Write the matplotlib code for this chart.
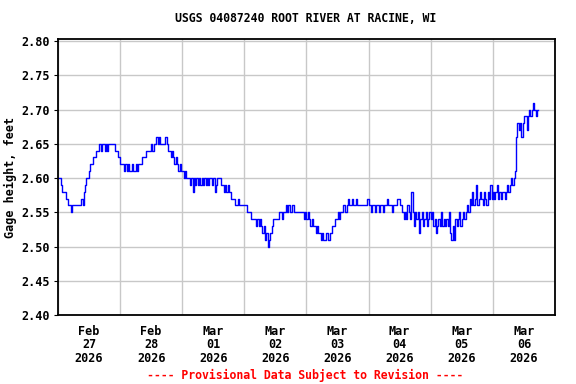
import matplotlib
matplotlib.use("Agg")
import matplotlib.pyplot as plt
import matplotlib.dates as mdates
import numpy as np
import pandas as pd

# gage height in hundredths of a foot above 2.50, one value every 30 min
feb27 = [10, 10, 9, 8, 8, 8, 7, 7, 6, 6, 5, 6, 6, 6, 6, 6, 6, 6, 7, 6, 8, 9, 10, 10,
         11, 12, 12, 13, 13, 14, 14, 14, 15, 14, 15, 15, 14, 15, 14, 15, 15, 15, 15, 15, 14, 14, 13, 13]
feb28 = [12, 12, 12, 11, 12, 11, 12, 11, 11, 12, 11, 11, 12, 11, 12, 12, 12, 13, 13, 13, 14, 14, 14, 14,
         15, 14, 15, 15, 16, 15, 16, 15, 15, 15, 15, 16, 15, 14, 14, 13, 14, 13, 12, 13, 12, 11, 12, 11]
mar01 = [11, 10, 11, 10, 10, 10, 9, 10, 8, 10, 9, 10, 9, 10, 9, 10, 9, 10, 9, 10, 9, 10, 10, 9,
         10, 8, 9, 10, 10, 10, 9, 9, 8, 9, 8, 9, 8, 8, 7, 7, 7, 6, 6, 7, 6, 6, 6, 6]
mar02 = [6, 6, 5, 5, 5, 4, 4, 4, 4, 3, 4, 3, 4, 3, 2, 3, 1, 2, 0, 1, 2, 3, 4, 4,
         4, 4, 4, 5, 5, 4, 5, 5, 6, 5, 6, 5, 5, 6, 5, 5, 5, 5, 5, 5, 5, 5, 4, 5]
mar03 = [4, 5, 4, 3, 4, 3, 3, 2, 3, 2, 2, 1, 2, 1, 1, 2, 2, 1, 2, 2, 3, 3, 4, 4,
         5, 4, 5, 5, 6, 6, 5, 6, 7, 6, 6, 7, 6, 6, 7, 6, 6, 6, 6, 6, 6, 6, 6, 7]
mar04 = [6, 6, 5, 6, 6, 5, 6, 6, 5, 6, 6, 5, 6, 6, 7, 6, 6, 6, 5, 6, 6, 6, 7, 7,
         6, 6, 5, 4, 5, 4, 6, 5, 4, 8, 5, 3, 5, 4, 5, 2, 4, 5, 3, 4, 5, 3, 4, 5]
mar05 = [4, 5, 3, 4, 2, 3, 4, 3, 5, 3, 4, 3, 4, 3, 5, 2, 1, 3, 1, 4, 3, 4, 5, 3,
         4, 5, 4, 5, 6, 5, 7, 6, 8, 6, 7, 9, 6, 7, 8, 7, 6, 8, 7, 6, 8, 7, 9, 7]
mar06 = [8, 7, 8, 9, 7, 8, 7, 8, 8, 7, 8, 9, 8, 9, 10, 9, 10, 11, 16, 18, 17, 18, 16, 18,
         19, 19, 17, 19, 20, 19, 20, 21, 20, 19, 20, 20]

hundredths = feb27 + feb28 + mar01 + mar02 + mar03 + mar04 + mar05 + mar06
gage = 2.50 + np.array(hundredths) / 100.0
times = pd.date_range("2026-02-27 00:00", periods=len(gage), freq="30min")

mono = "DejaVu Sans Mono"

fig = plt.figure(figsize=(5.76, 3.84), dpi=100)
ax = fig.add_axes([0.1007, 0.1797, 0.8628, 0.7188])

ax.plot(times, gage, color="#0000ff", linewidth=1.0, drawstyle="steps-post")

ax.set_xlim(pd.Timestamp("2026-02-27"), pd.Timestamp("2026-03-07"))
ax.set_ylim(2.40, 2.803)
ax.set_yticks(np.arange(2.40, 2.801, 0.05))
ax.yaxis.set_major_formatter(matplotlib.ticker.FormatStrFormatter("%.2f"))

ax.xaxis.set_major_locator(mdates.DayLocator())
ax.xaxis.set_major_formatter(matplotlib.ticker.NullFormatter())
ax.xaxis.set_minor_locator(mdates.HourLocator(byhour=12))
ax.xaxis.set_minor_formatter(mdates.DateFormatter("%b\n%d\n%Y"))
ax.tick_params(axis="x", which="both", length=0, pad=7)
ax.tick_params(axis="y", length=3, pad=3)

ax.grid(True, which="major", color="#c8c8c8", linewidth=1.0)
ax.set_axisbelow(True)
for sp in ax.spines.values():
    sp.set_linewidth(1.3)
    sp.set_color("black")

for lab in ax.get_yticklabels():
    lab.set_fontfamily(mono)
    lab.set_fontweight("bold")
    lab.set_fontsize(8.5)
for lab in ax.get_xticklabels(minor=True):
    lab.set_fontfamily(mono)
    lab.set_fontweight("bold")
    lab.set_fontsize(8.5)
    lab.set_linespacing(1.05)

ax.set_ylabel("Gage height, feet", fontfamily=mono, fontweight="bold", fontsize=8.5, labelpad=3)
fig.text(0.53, 0.951, "USGS 04087240 ROOT RIVER AT RACINE, WI", ha="center", va="center",
         fontfamily=mono, fontweight="bold", fontsize=8.3)
fig.text(0.53, 0.023, "---- Provisional Data Subject to Revision ----", ha="center", va="center",
         fontfamily=mono, fontweight="bold", fontsize=8.3, color="red")

fig.savefig("out.png", dpi=100)
